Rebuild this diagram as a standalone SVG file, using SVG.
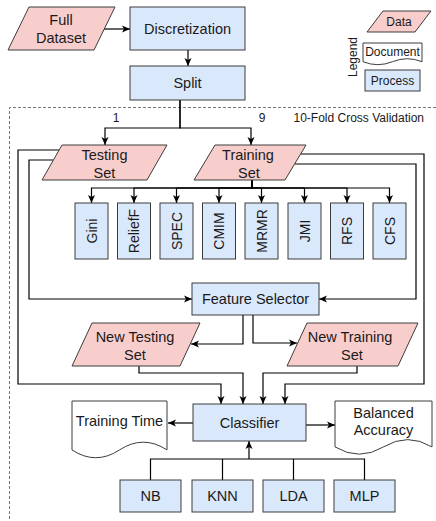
<svg xmlns="http://www.w3.org/2000/svg" width="436" height="521" viewBox="0 0 436 521">
  <style>
    .data { fill: #f8cecc; stroke: #3c3c3c; stroke-width: 1; }
    .proc { fill: #dae8fc; stroke: #3c3c3c; stroke-width: 1; }
    .doc  { fill: #ffffff; stroke: #3c3c3c; stroke-width: 1; }
    .lbl  { font-family: "Liberation Sans", Arial, sans-serif; font-size: 14.5px; fill: #1a1a1a; text-anchor: middle; }
    .vlbl { font-family: "Liberation Sans", Arial, sans-serif; font-size: 14px; fill: #1a1a1a; text-anchor: middle; }
    .small { font-family: "Liberation Sans", Arial, sans-serif; font-size: 12px; fill: #1a1a1a; }
    .edge { fill: none; stroke: #000; stroke-width: 1.2; }
    .edge-a { fill: none; stroke: #000; stroke-width: 1.2; marker-end: url(#arr); }
    .frame { fill: none; stroke: #777; stroke-width: 1; stroke-dasharray: 3 2; }
  </style>
  <defs>
    <marker id="arr" markerUnits="userSpaceOnUse" markerWidth="8" markerHeight="8" viewBox="0 0 8 8" refX="8" refY="4" orient="auto">
      <path d="M0,0.5 L8,4 L0,7.5 L2,4 z" fill="#000"/>
    </marker>
  </defs>

  <!-- cross-validation frame -->
  <path class="frame" d="M436,107.5 H9.5 V521"/>
  <text class="small" x="424" y="122" text-anchor="end">10-Fold Cross Validation</text>

  <!-- legend -->
  <g id="legend">
    <text class="small" transform="translate(357,57) rotate(-90)" text-anchor="middle">Legend</text>
    <polygon class="data" points="383,11 431,11 415,32 367,32"/>
    <text class="small" x="399" y="26" text-anchor="middle">Data</text>
    <path class="doc" d="M363,43 H422 V61.7 Q407.25,55.76 392.5,61.7 Q377.75,67.64 363,61.7 Z"/>
    <text class="small" x="392.5" y="56" text-anchor="middle">Document</text>
    <rect class="proc" x="365" y="70" width="55" height="21"/>
    <text class="small" x="392.5" y="85" text-anchor="middle">Process</text>
  </g>

  <!-- connectors -->
  <g id="connectors">
    <path class="edge-a" d="M104,29 H130"/>
    <path class="edge-a" d="M188,50 V66"/>
    <path class="edge-a" d="M180,100 V128 H105 V145"/>
    <path class="edge-a" d="M180,100 V128 H251 V145"/>
    <!-- training set to each selector -->
    <path class="edge-a" d="M252,180 V188 H91.5 V203"/>
    <path class="edge-a" d="M252,180 V188 H134 V203"/>
    <path class="edge-a" d="M252,180 V188 H176.5 V203"/>
    <path class="edge-a" d="M252,180 V188 H219 V203"/>
    <path class="edge-a" d="M252,180 V188 H261.5 V203"/>
    <path class="edge-a" d="M252,180 V188 H304.5 V203"/>
    <path class="edge-a" d="M252,180 V188 H347 V203"/>
    <path class="edge-a" d="M252,180 V188 H389.5 V203"/>
    <!-- loops round the selectors -->
    <path class="edge-a" d="M53,160 H29 V299 H192"/>
    <path class="edge-a" d="M295,164 H416 V299 H319"/>
    <path class="edge-a" d="M59,150 H18 V384 H221 V404"/>
    <path class="edge-a" d="M301,154 H424 V384 H285 V404"/>
    <!-- feature selector outputs -->
    <path class="edge-a" d="M243,315 V344 H191"/>
    <path class="edge-a" d="M253,315 V343 H297"/>
    <path class="edge-a" d="M139,366 V373 H243 V404"/>
    <path class="edge-a" d="M357,366 V373 H263 V404"/>
    <!-- classifier outputs -->
    <path class="edge-a" d="M193,423 H168"/>
    <path class="edge-a" d="M306,425 H335"/>
    <!-- models into classifier -->
    <path class="edge" d="M150.5,480 V459 H364.5 V480"/>
    <path class="edge" d="M222.5,480 V459"/>
    <path class="edge" d="M293.5,480 V459"/>
    <path class="edge-a" d="M249,459 V441"/>
  </g>

  <g id="full-dataset">
    <polygon class="data" points="29,7 115,7 94,50 8,50"/>
    <text class="lbl" x="61" y="25">Full</text>
    <text class="lbl" x="61" y="43">Dataset</text>
  </g>
  <g id="discretization">
    <rect class="proc" x="130" y="7" width="115" height="43"/>
    <text class="lbl" x="187.5" y="34">Discretization</text>
  </g>
  <g id="split">
    <rect class="proc" x="130" y="66" width="115" height="34"/>
    <text class="lbl" x="187.5" y="88">Split</text>
  </g>
  <text class="small" x="116" y="122" text-anchor="middle">1</text>
  <text class="small" x="262" y="122" text-anchor="middle">9</text>

  <g id="testing-set">
    <polygon class="data" points="62,145 167,145 147,180 42,180"/>
    <text class="lbl" x="104.5" y="160">Testing</text>
    <text class="lbl" x="104.5" y="178">Set</text>
  </g>
  <g id="training-set">
    <polygon class="data" points="215,145 306,145 285,180 194,180"/>
    <text class="lbl" x="248" y="160">Training</text>
    <text class="lbl" x="249" y="178">Set</text>
  </g>

  <g id="gini">
    <rect class="proc" x="75" y="203" width="33" height="56"/>
    <text class="vlbl" transform="translate(91.5,231) rotate(-90)" y="5">Gini</text>
  </g>
  <g id="relieff">
    <rect class="proc" x="117.5" y="203" width="33" height="56"/>
    <text class="vlbl" transform="translate(134,231) rotate(-90)" y="5">ReliefF</text>
  </g>
  <g id="spec">
    <rect class="proc" x="160" y="203" width="33" height="56"/>
    <text class="vlbl" transform="translate(176.5,231) rotate(-90)" y="5">SPEC</text>
  </g>
  <g id="cmim">
    <rect class="proc" x="202.5" y="203" width="33" height="56"/>
    <text class="vlbl" transform="translate(219,231) rotate(-90)" y="5">CMIM</text>
  </g>
  <g id="mrmr">
    <rect class="proc" x="245" y="203" width="33" height="56"/>
    <text class="vlbl" transform="translate(261.5,231) rotate(-90)" y="5">MRMR</text>
  </g>
  <g id="jmi">
    <rect class="proc" x="288" y="203" width="33" height="56"/>
    <text class="vlbl" transform="translate(304.5,231) rotate(-90)" y="5">JMI</text>
  </g>
  <g id="rfs">
    <rect class="proc" x="330.5" y="203" width="33" height="56"/>
    <text class="vlbl" transform="translate(347,231) rotate(-90)" y="5">RFS</text>
  </g>
  <g id="cfs">
    <rect class="proc" x="373" y="203" width="33" height="56"/>
    <text class="vlbl" transform="translate(389.5,231) rotate(-90)" y="5">CFS</text>
  </g>

  <g id="feature-selector">
    <rect class="proc" x="192" y="283" width="127" height="32"/>
    <text class="lbl" x="255.5" y="304">Feature Selector</text>
  </g>
  <g id="new-testing-set">
    <polygon class="data" points="92,323 200,323 180,366 72,366"/>
    <text class="lbl" x="135" y="342">New Testing</text>
    <text class="lbl" x="135" y="360">Set</text>
  </g>
  <g id="new-training-set">
    <polygon class="data" points="307,323 418,323 398,366 287,366"/>
    <text class="lbl" x="350" y="342">New Training</text>
    <text class="lbl" x="352" y="360">Set</text>
  </g>

  <g id="classifier">
    <rect class="proc" x="193" y="404" width="113" height="37"/>
    <text class="lbl" x="249.5" y="428">Classifier</text>
  </g>
  <g id="training-time">
    <path class="doc" d="M72,401 H167 V449.95 Q143.25,434.4 119.5,449.95 Q95.75,465.5 72,449.95 Z"/>
    <text class="lbl" x="119.5" y="426">Training Time</text>
  </g>
  <g id="balanced-accuracy">
    <path class="doc" d="M335,401 H432 V446.9 Q407.75,432.3 383.5,446.9 Q359.25,461.5 335,446.9 Z"/>
    <text class="lbl" x="383.5" y="418">Balanced</text>
    <text class="lbl" x="383.5" y="435">Accuracy</text>
  </g>

  <g id="nb">
    <rect class="proc" x="120" y="480" width="61" height="32"/>
    <text class="lbl" x="150.5" y="501">NB</text>
  </g>
  <g id="knn">
    <rect class="proc" x="192" y="480" width="61" height="32"/>
    <text class="lbl" x="222.5" y="501">KNN</text>
  </g>
  <g id="lda">
    <rect class="proc" x="263" y="480" width="61" height="32"/>
    <text class="lbl" x="293.5" y="501">LDA</text>
  </g>
  <g id="mlp">
    <rect class="proc" x="334" y="480" width="61" height="32"/>
    <text class="lbl" x="364.5" y="501">MLP</text>
  </g>
</svg>
